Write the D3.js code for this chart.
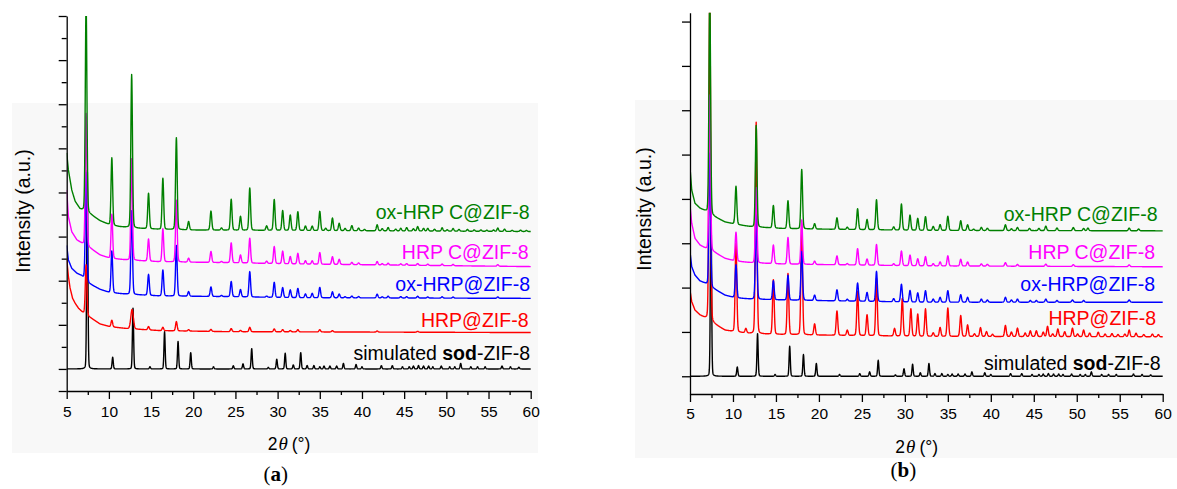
<!DOCTYPE html>
<html>
<head>
<meta charset="utf-8">
<script src="https://cdn.jsdelivr.net/npm/d3@7"></script>
<style>
body { margin: 0; background: #fff; }
svg { display: block; font-family: "Liberation Sans", Arial, sans-serif; }
</style>
</head>
<body>
<svg id="chart" width="1177" height="489"></svg>
<script>
// series, bottom to top
var seriesNames = ["simulated sod-ZIF-8", "HRP@ZIF-8", "ox-HRP@ZIF-8", "HRP C@ZIF-8", "ox-HRP C@ZIF-8"];
var seriesColors = ["#000000", "#ff0000", "#0000ff", "#ff00ff", "#008000"];
var xTicksMajor = [5, 10, 15, 20, 25, 30, 35, 40, 45, 50, 55, 60];
var xTicksMinor = [7.5, 12.5, 17.5, 22.5, 27.5, 32.5, 37.5, 42.5, 47.5, 52.5, 57.5];
var yTicksA = d3.range(-1, 17);
var yTicksB = [0, 1, 2, 3, 4, 5, 6, 7, 8];

// ---- panel (a) ----
// background lines [2theta, intensity]
var bgA_sim = [[5, 0], [60, 0]];
var bgA_hrp = [[5, 5.0], [5.2, 4.2], [5.4, 3.67], [5.7, 3.2], [6.0, 2.98], [6.4, 2.75], [6.8, 2.6], [7.6, 2.38], [8.95, 2.04], [10.1, 1.92], [12.1, 1.83], [16, 1.74], [24, 1.69], [60, 1.65]];
var bgA_oxhrp = [[5, 5.6], [5.2, 4.94], [5.6, 4.56], [6.2, 4.34], [6.78, 4.22], [7.6, 3.88], [8.95, 3.61], [10.1, 3.46], [12.1, 3.39], [16, 3.31], [24, 3.28], [32, 3.23], [60, 3.2]];
var bgA_hrpc = [[5, 8.11], [5.2, 6.9], [5.6, 6.22], [6.2, 5.85], [6.78, 5.7], [7.6, 5.52], [8.95, 5.17], [10.1, 5.02], [12.1, 4.94], [16, 4.86], [24, 4.82], [32, 4.76], [60, 4.64]];
var bgA_oxhrpc = [[5, 9.79], [5.2, 9.02], [5.6, 8.11], [6.0, 7.6], [6.58, 7.25], [7.6, 7.06], [8.95, 6.72], [10.1, 6.53], [11.3, 6.45], [13.3, 6.38], [16, 6.33], [20, 6.3], [60, 6.23]];
// peaks [2theta, height above background]
var peaksA_sim = [[7.44, 9], [10.45, 0.53], [12.86, 2.75], [14.87, 0.1], [16.6, 1.69], [18.2, 1.25], [19.7, 0.74], [22.4, 0.1], [24.75, 0.14], [25.9, 0.23], [26.93, 0.92], [28.9, 0.07], [29.9, 0.44], [30.9, 0.71], [31.86, 0.18], [32.74, 0.74],
  [33.5, 0.15], [34.3, 0.15], [35.0, 0.1], [35.5, 0.13], [36.2, 0.13], [37.0, 0.13], [37.8, 0.25], [39.3, 0.2], [40.0, 0.1], [42.3, 0.15], [43.6, 0.15], [44.8, 0.1], [45.6, 0.1], [46.1, 0.13], [46.7, 0.15], [47.3, 0.13], [47.9, 0.13], [48.4, 0.1], [49.4, 0.13], [50.4, 0.1], [51.0, 0.1], [51.7, 0.25], [52.9, 0.1], [53.7, 0.1], [54.6, 0.1], [56.6, 0.13], [57.6, 0.1], [58.6, 0.08]];
var peaksA_hrp = [[7.3, 2.26], [10.35, 0.3], [12.75, 0.88, 0.15], [14.7, 0.15], [16.4, 0.15], [18.0, 0.42], [19.45, 0.06], [22.1, 0.09], [24.5, 0.14], [25.6, 0.06], [26.7, 0.2], [29.6, 0.13], [30.6, 0.1], [31.5, 0.06], [32.4, 0.1], [35.0, 0.1], [36.5, 0.06], [41.8, 0.05], [46.6, 0.04]];
var peaksA_oxhrp = [[7.3, 4.9], [10.35, 1.9], [12.7, 3.8], [14.7, 0.95], [16.4, 1.18], [18.0, 2.3], [19.45, 0.21], [22.1, 0.43], [23.35, 0.05], [24.5, 0.69], [25.6, 0.33], [26.7, 1.15], [28.7, 0.05], [29.6, 0.68], [30.6, 0.45], [31.5, 0.35], [32.4, 0.42],
  [33.3, 0.17], [34.1, 0.2], [35.0, 0.47], [36.5, 0.27], [37.3, 0.17], [38.0, 0.05], [38.8, 0.08], [39.6, 0.06], [41.8, 0.17], [42.4, 0.05], [43.1, 0.08], [44.6, 0.06], [45.3, 0.06], [46.6, 0.08], [47.8, 0.05], [49.5, 0.06], [50.8, 0.05], [56.1, 0.06]];
var peaksA_hrpc = [[7.3, 6.0], [10.35, 2.0], [12.7, 4.6], [14.7, 1.0], [16.4, 1.5], [18.0, 2.8], [19.45, 0.18], [22.1, 0.5], [23.35, 0.05], [24.5, 0.9], [25.6, 0.36], [26.7, 1.13], [28.7, 0.1], [29.6, 0.77], [30.6, 0.57], [31.5, 0.33], [32.4, 0.48],
  [33.3, 0.15], [34.1, 0.15], [35.0, 0.53], [36.5, 0.35], [37.3, 0.23], [38.8, 0.1], [39.6, 0.08], [41.8, 0.15], [42.4, 0.06], [43.1, 0.08], [44.6, 0.06], [45.3, 0.07], [46.6, 0.08], [47.8, 0.06], [49.5, 0.07], [50.8, 0.06], [56.1, 0.07]];
var peaksA_oxhrpc = [[7.3, 9.5], [10.35, 3.06], [12.7, 6.95], [14.7, 1.61], [16.4, 2.32], [18.0, 4.17], [19.45, 0.38], [22.1, 0.86], [23.35, 0.1], [24.5, 1.4], [25.6, 0.63], [26.7, 1.92], [28.7, 0.2], [29.6, 1.4], [30.6, 0.9], [31.5, 0.7], [32.4, 0.85],
  [33.3, 0.2], [34.1, 0.2], [35.0, 0.87], [35.7, 0.1], [36.5, 0.57], [37.3, 0.33], [38.0, 0.1], [38.8, 0.23], [39.6, 0.12], [40.3, 0.06], [41.8, 0.27], [42.4, 0.1], [43.1, 0.15], [44.0, 0.08], [44.6, 0.12], [45.3, 0.15], [46.1, 0.1], [46.6, 0.2], [47.3, 0.12], [47.8, 0.12], [48.6, 0.08], [49.5, 0.15], [50.1, 0.06], [50.8, 0.12], [51.5, 0.08], [52.5, 0.08], [53.3, 0.06], [54.1, 0.06], [54.8, 0.05], [55.6, 0.06], [56.1, 0.15], [56.9, 0.1], [57.8, 0.05], [58.8, 0.06], [59.5, 0.05]];

// ---- panel (b) ----
var bgB_sim = [[5, 0], [60, 0]];
var bgB_hrp = [[5, 1.94], [5.2, 1.68], [5.58, 1.49], [6.16, 1.38], [6.83, 1.3], [7.71, 1.19], [9.07, 1.04], [10.24, 1.0], [12.18, 0.96], [16, 0.94], [32, 0.9], [60, 0.89]];
var bgB_oxhrp = [[5, 2.81], [5.2, 2.47], [5.58, 2.28], [6.16, 2.15], [6.83, 2.09], [7.71, 1.98], [9.07, 1.83], [10.24, 1.77], [12.18, 1.74], [16, 1.72], [32, 1.67], [60, 1.67]];
var bgB_hrpc = [[5, 3.86], [5.2, 3.45], [5.58, 3.11], [6.16, 2.96], [6.83, 2.88], [7.71, 2.81], [9.07, 2.66], [10.24, 2.6], [12.18, 2.56], [16, 2.53], [32, 2.49], [60, 2.47]];
var bgB_oxhrpc = [[5, 4.72], [5.2, 4.2], [5.58, 3.9], [6.16, 3.79], [6.83, 3.72], [7.71, 3.61], [9.07, 3.48], [10.24, 3.43], [12.18, 3.37], [16, 3.33], [32, 3.29], [60, 3.28]];
var peaksB_sim = [[7.44, 3.9], [10.5, 0.21], [12.86, 0.96], [14.9, 0.04], [16.6, 0.68], [18.2, 0.49], [19.7, 0.29], [22.4, 0.04], [24.75, 0.06], [25.9, 0.1], [26.9, 0.36], [28.9, 0.03], [29.9, 0.17], [30.9, 0.27], [31.8, 0.08], [32.8, 0.29],
  [33.5, 0.06], [34.3, 0.06], [35.0, 0.04], [35.5, 0.05], [36.2, 0.05], [37.0, 0.05], [37.8, 0.1], [39.3, 0.08], [40.0, 0.04], [42.3, 0.06], [43.6, 0.06], [44.8, 0.04], [45.6, 0.04], [46.1, 0.05], [46.7, 0.06], [47.3, 0.05], [47.9, 0.05], [48.4, 0.04], [49.4, 0.05], [50.4, 0.04], [51.0, 0.04], [51.7, 0.1], [52.9, 0.04], [53.7, 0.04], [54.6, 0.04], [56.6, 0.05], [57.6, 0.04], [58.6, 0.03]];
var peaksB_hrp = [[7.3, 7.5], [10.35, 2.0], [11.5, 0.1], [12.7, 4.77], [14.7, 1.23], [16.4, 1.38], [18.0, 2.5], [19.5, 0.25], [22.1, 0.55], [23.3, 0.12], [24.5, 1.0], [25.6, 0.47], [26.7, 1.3], [28.8, 0.17], [29.7, 0.85], [30.7, 0.62], [31.5, 0.5], [32.4, 0.62],
  [33.3, 0.08], [34.1, 0.2], [35.0, 0.64], [36.5, 0.47], [37.3, 0.26], [38.1, 0.06], [38.8, 0.2], [39.5, 0.11], [40.2, 0.05], [41.7, 0.25], [42.4, 0.1], [43.1, 0.19], [44.0, 0.08], [44.6, 0.13], [45.3, 0.13], [46.1, 0.1], [46.6, 0.23], [47.2, 0.06], [47.8, 0.17], [48.6, 0.11], [49.5, 0.19], [50.1, 0.06], [50.8, 0.15], [51.5, 0.08], [52.5, 0.1], [53.3, 0.06], [54.1, 0.07], [54.8, 0.05], [55.6, 0.06], [56.1, 0.15], [56.9, 0.08], [57.8, 0.05], [58.8, 0.06], [59.5, 0.05]];
var peaksB_oxhrp = [[7.3, 3.0], [10.35, 0.75], [12.7, 1.9], [14.7, 0.43], [16.4, 0.56], [18.0, 1.1], [19.5, 0.12], [22.1, 0.25], [23.3, 0.04], [24.5, 0.41], [25.6, 0.2], [26.7, 0.68], [28.7, 0.07], [29.6, 0.4], [30.6, 0.26], [31.5, 0.21], [32.4, 0.26],
  [33.3, 0.07], [34.1, 0.11], [35.0, 0.26], [36.5, 0.17], [37.3, 0.11], [38.9, 0.07], [39.6, 0.05], [41.7, 0.11], [42.4, 0.05], [43.1, 0.07], [44.6, 0.04], [45.3, 0.04], [46.4, 0.07], [47.7, 0.04], [49.5, 0.05], [50.8, 0.04], [56.1, 0.05]];
var peaksB_hrpc = [[7.3, 3.5], [10.35, 0.65], [12.7, 1.7], [14.7, 0.42], [16.4, 0.6], [18.0, 1.0], [19.5, 0.075], [22.1, 0.2], [23.3, 0.03], [24.5, 0.37], [25.6, 0.14], [26.7, 0.47], [28.7, 0.04], [29.6, 0.33], [30.6, 0.24], [31.5, 0.16], [32.4, 0.21],
  [33.3, 0.05], [34.1, 0.09], [35.0, 0.23], [36.5, 0.15], [37.3, 0.09], [38.9, 0.05], [39.6, 0.04], [41.7, 0.08], [43.1, 0.04], [46.4, 0.05], [49.6, 0.04], [56.1, 0.04]];
var peaksB_oxhrpc = [[7.3, 5.0], [10.35, 0.86], [12.7, 2.29], [14.7, 0.51], [16.4, 0.63], [18.0, 1.34], [19.5, 0.12], [22.1, 0.26], [23.3, 0.05], [24.5, 0.47], [25.6, 0.23], [26.7, 0.68], [28.7, 0.07], [29.6, 0.59], [30.6, 0.34], [31.5, 0.27], [32.4, 0.31],
  [33.3, 0.09], [34.1, 0.13], [35.0, 0.32], [36.5, 0.22], [37.3, 0.13], [38.0, 0.03], [38.9, 0.07], [39.6, 0.05], [41.7, 0.13], [42.4, 0.04], [43.1, 0.07], [44.5, 0.05], [45.6, 0.05], [46.4, 0.1], [47.7, 0.06], [49.6, 0.07], [50.8, 0.05], [51.3, 0.06], [56.1, 0.06], [57.2, 0.04]];

var svg = d3.select("#chart");

// linear background between read points
function bgAt(bg, x) {
	for (var i = 1; i < bg.length; i++) {
		if (x <= bg[i][0]) {
			var t = (x - bg[i-1][0]) / (bg[i][0] - bg[i-1][0]);
			return bg[i-1][1] + t * (bg[i][1] - bg[i-1][1]);
		}
	}
	return bg[bg.length-1][1];
}
// mostly gaussian peak with a small lorentzian foot
function peakShape(t) {
	return 0.88 * Math.exp(-0.5*t*t) + 0.12 / (1 + (t/1.1774)*(t/1.1774));
}
function buildTrace(bg, peaks, sig) {
	var xs = d3.range(5, 60.0001, 0.025);
	peaks.forEach(function(p) { xs.push(p[0]); });
	xs.sort(d3.ascending);
	return xs.map(function(x) {
		var v = bgAt(bg, x);
		peaks.forEach(function(p) {
			var d = x - p[0];
			if (Math.abs(d) < 3) v += p[1] * peakShape(d / (p[2] || sig));
		});
		return [x, v];
	});
}

function drawPanel(cfg) {
	// light grey block behind the panel
	svg.append("rect")
		.attr("x", cfg.bgRect[0]).attr("y", cfg.bgRect[1])
		.attr("width", cfg.bgRect[2]).attr("height", cfg.bgRect[3])
		.attr("fill", "#f8f8f8");

	var x = d3.scaleLinear().domain([5, 60]).range(cfg.xRange);
	var y = d3.scaleLinear().domain(cfg.yDomain).range(cfg.yRange);
	var g = svg.append("g");

	g.append("clipPath").attr("id", cfg.id + "clip")
		.append("rect")
		.attr("x", cfg.xRange[0]).attr("y", cfg.yRange[1])
		.attr("width", cfg.xRange[1] - cfg.xRange[0] + 2)
		.attr("height", cfg.yRange[0] - cfg.yRange[1]);

	var line = d3.line()
		.x(function(d) { return x(d[0]); })
		.y(function(d) { return y(d[1]); });

	var traces = g.append("g").attr("clip-path", "url(#" + cfg.id + "clip)");
	cfg.series.forEach(function(s, i) {
		traces.append("path")
			.datum(buildTrace(s.bg, s.peaks, i == 0 ? cfg.simSig : cfg.sig))
			.attr("fill", "none")
			.attr("stroke", seriesColors[i])
			.attr("stroke-width", 1.4)
			.attr("stroke-linejoin", "round")
			.attr("d", line);
	});

	// x axis
	var xAxisY = cfg.yRange[0];
	var gx = g.append("g").attr("transform", "translate(0," + xAxisY + ")")
		.call(d3.axisBottom(x).tickValues(xTicksMajor).tickSize(8).tickSizeOuter(0).tickPadding(cfg.xPad));
	g.append("g").attr("transform", "translate(0," + xAxisY + ")")
		.call(d3.axisBottom(x).tickValues(xTicksMinor).tickSize(4).tickFormat(""))
		.select(".domain").remove();
	gx.selectAll("text").attr("font-size", 15.5).attr("font-family", "'Liberation Sans', Arial, sans-serif").attr("fill", "#000");

	// y axis
	var gy = g.append("g").attr("transform", "translate(" + cfg.xRange[0] + ",0)")
		.call(d3.axisLeft(y).tickValues(cfg.yTicks).tickSize(8).tickSizeOuter(0).tickFormat(""));
	if (cfg.minorY) {
		gy.selectAll(".tick line").attr("x2", function(d) { return (d % 2 == 0 || d == -1) ? -8 : -5; });
	}
	g.selectAll(".domain, .tick line").attr("stroke", "#000").attr("stroke-width", 1.3);

	// series labels
	cfg.series.forEach(function(s, i) {
		var t = g.append("text")
			.attr("x", cfg.labelX[i]).attr("y", cfg.labelY[i] + 7)
			.attr("text-anchor", "end")
			.attr("font-size", 19.5)
			.attr("fill", seriesColors[i]);
		if (i == 0) {
			t.append("tspan").text("simulated ");
			t.append("tspan").attr("font-weight", "bold").text("sod");
			t.append("tspan").text("-ZIF-8");
		} else {
			t.text(seriesNames[i]);
		}
	});

	// axis titles
	var xc = (cfg.xRange[0] + cfg.xRange[1]) / 2;
	var xt = g.append("text").attr("x", xc - 31).attr("y", cfg.xTitleY)
		.attr("font-size", 17.5);
	xt.append("tspan").text("2");
	xt.append("tspan").attr("dx", 1).attr("font-style", "italic").attr("font-family", "'Liberation Serif', serif").attr("font-size", 19).text("\u03b8");
	xt.append("tspan").attr("dx", 4).text("(\u00b0)");

	g.append("text")
		.attr("transform", "translate(" + cfg.yTitle[0] + "," + cfg.yTitle[1] + ") rotate(-90)")
		.attr("text-anchor", "middle").attr("font-size", 19.5)
		.text("Intensity (a.u.)");

	var pl = g.append("text").attr("x", xc - 23).attr("y", cfg.panelY)
		.attr("text-anchor", "middle").attr("font-size", 21)
		.attr("font-family", "'Liberation Serif', 'Times New Roman', serif");
	pl.append("tspan").text("(");
	pl.append("tspan").attr("font-weight", "bold").text(cfg.letter);
	pl.append("tspan").text(")");
}

drawPanel({
	id: "a", letter: "a",
	bgRect: [12, 103, 526, 350],
	xRange: [66.7, 530.7], yRange: [391, 16], yDomain: [-1, 16],
	yTicks: yTicksA, minorY: true, xPad: 7,
	sig: 0.095, simSig: 0.07,
	series: [
		{bg: bgA_sim, peaks: peaksA_sim},
		{bg: bgA_hrp, peaks: peaksA_hrp},
		{bg: bgA_oxhrp, peaks: peaksA_oxhrp},
		{bg: bgA_hrpc, peaks: peaksA_hrpc},
		{bg: bgA_oxhrpc, peaks: peaksA_oxhrpc}
	],
	labelX: [530, 528.5, 530, 528.5, 529.5],
	labelY: [353.3, 320, 284, 251.7, 211.7],
	xTitleY: 450, yTitle: [29.5, 211], panelY: 481
});

drawPanel({
	id: "b", letter: "b",
	bgRect: [635, 100, 542, 358],
	xRange: [690, 1162.7], yRange: [394, 12.7], yDomain: [-0.4, 8.2],
	yTicks: yTicksB, minorY: false, xPad: 6,
	sig: 0.095, simSig: 0.07,
	series: [
		{bg: bgB_sim, peaks: peaksB_sim},
		{bg: bgB_hrp, peaks: peaksB_hrp},
		{bg: bgB_oxhrp, peaks: peaksB_oxhrp},
		{bg: bgB_hrpc, peaks: peaksB_hrpc},
		{bg: bgB_oxhrpc, peaks: peaksB_oxhrpc}
	],
	labelX: [1160.5, 1156, 1155, 1155, 1157.5],
	labelY: [362.7, 317.7, 284, 251.7, 214],
	xTitleY: 453, yTitle: [651, 209], panelY: 477
});
</script>
</body>
</html>
